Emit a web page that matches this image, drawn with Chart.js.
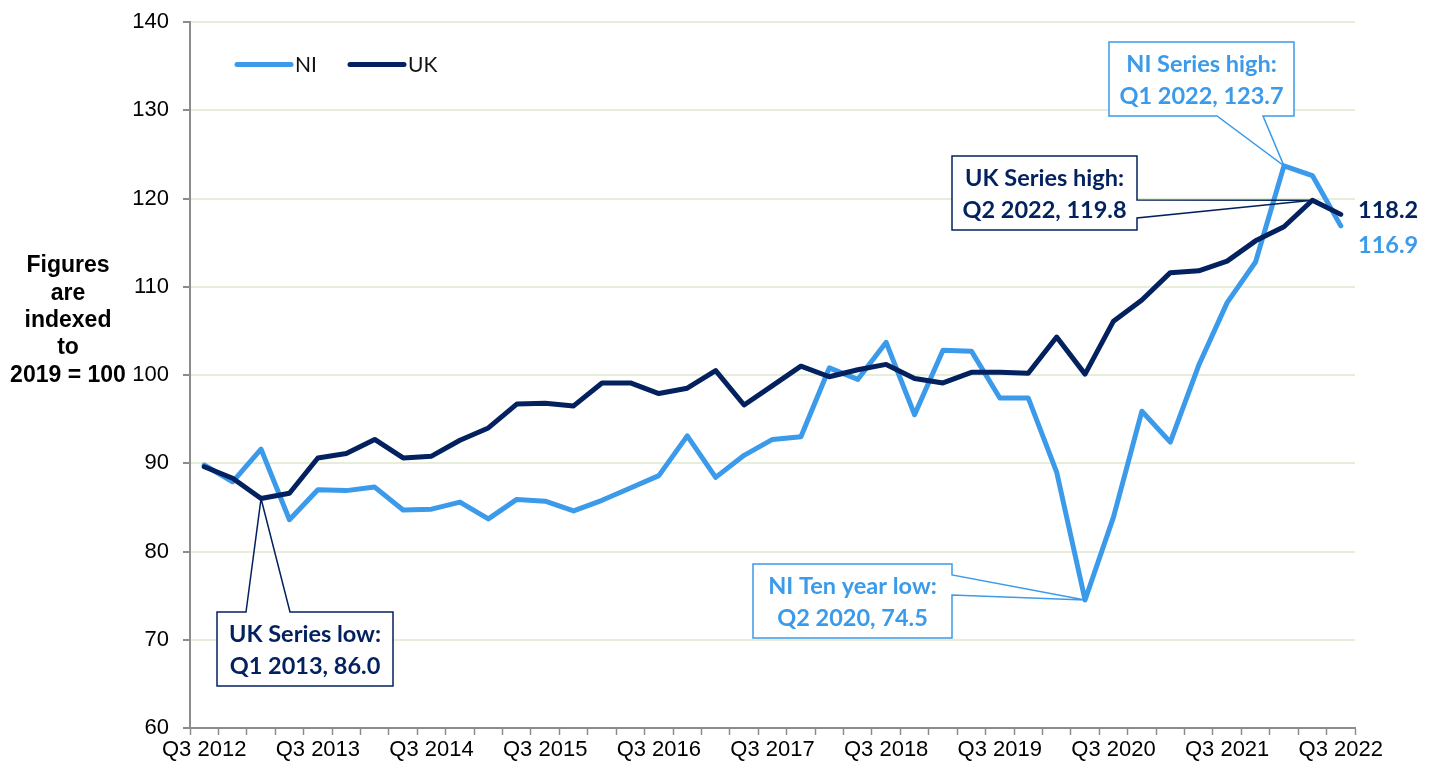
<!DOCTYPE html>
<html>
<head>
<meta charset="utf-8">
<script src="https://cdn.jsdelivr.net/npm/chart.js@4"></script>
<style>
  body { margin: 0; background: #fff; }
  canvas { display: block; }
</style>
</head>
<body>
<canvas id="chart" width="1431" height="768"></canvas>
<script>
// quarters, Q3 2012 .. Q3 2022
const quarters = [
  'Q3 2012','Q4 2012','Q1 2013','Q2 2013','Q3 2013','Q4 2013','Q1 2014','Q2 2014',
  'Q3 2014','Q4 2014','Q1 2015','Q2 2015','Q3 2015','Q4 2015','Q1 2016','Q2 2016',
  'Q3 2016','Q4 2016','Q1 2017','Q2 2017','Q3 2017','Q4 2017','Q1 2018','Q2 2018',
  'Q3 2018','Q4 2018','Q1 2019','Q2 2019','Q3 2019','Q4 2019','Q1 2020','Q2 2020',
  'Q3 2020','Q4 2020','Q1 2021','Q2 2021','Q3 2021','Q4 2021','Q1 2022','Q2 2022',
  'Q3 2022'
];

const niValues = [
  89.8, 87.9, 91.6, 83.6, 87.0, 86.9, 87.3, 84.7, 84.8, 85.6, 83.7, 85.9, 85.7, 84.6,
  85.8, 87.2, 88.6, 93.1, 88.4, 90.9, 92.7, 93.0, 100.8, 99.5, 103.7, 95.5, 102.8, 102.7,
  97.4, 97.4, 89.0, 74.5, 83.9, 95.9, 92.4, 101.1, 108.2, 112.8, 123.7, 122.6, 116.9
];

const ukValues = [
  89.6, 88.3, 86.0, 86.6, 90.6, 91.1, 92.7, 90.6, 90.8, 92.6, 94.0, 96.7, 96.8, 96.5,
  99.1, 99.1, 97.9, 98.5, 100.5, 96.6, 98.8, 101.0, 99.8, 100.6, 101.2, 99.6, 99.1, 100.3,
  100.3, 100.2, 104.3, 100.1, 106.1, 108.5, 111.6, 111.8, 112.9, 115.2, 116.8, 119.8, 118.2
];

const yTitleLines = ['Figures', 'are', 'indexed', 'to', '2019 = 100'];

const NI_COL = '#3b9ae9';
const UK_COL = '#03215f';

// callouts: series, point index, text
const callouts = [
  { series: 'NI', idx: 38, lines: ['NI Series high:', 'Q1 2022, 123.7'] },
  { series: 'UK', idx: 39, lines: ['UK Series high:', 'Q2 2022, 119.8'] },
  { series: 'NI', idx: 31, lines: ['NI Ten year low:', 'Q2 2020, 74.5'] },
  { series: 'UK', idx: 2,  lines: ['UK Series low:', 'Q1 2013, 86.0'] }
];

// box geometry for each callout (x, y, w, h, which side the pointer leaves from, a, b)
const boxes = [
  { x: 1109, y: 42,  w: 185, h: 74, side: 'bottom', a: 1217, b: 1263 },
  { x: 952,  y: 156, w: 185, h: 74, side: 'right',  a: 200,  b: 218 },
  { x: 753,  y: 564, w: 199, h: 74, side: 'right',  a: 575,  b: 595 },
  { x: 217,  y: 612, w: 176, h: 74, side: 'top',    a: 246,  b: 290 }
];

const extras = {
  id: 'extras',
  afterDatasetsDraw(chart) {
    const ctx = chart.ctx;
    const xs = chart.scales.x, ys = chart.scales.y;
    ctx.save();

    // y axis title
    ctx.fillStyle = '#000';
    ctx.font = 'bold 23px "Liberation Sans", Arial, sans-serif';
    ctx.textAlign = 'center';
    ctx.textBaseline = 'middle';
    yTitleLines.forEach((t, i) => ctx.fillText(t, 68, 266 + i * 27.3));

    // legend
    const leg = [['NI', NI_COL, 237], ['UK', UK_COL, 350]];
    ctx.font = '21px Lato, sans-serif';
    ctx.textAlign = 'left';
    ctx.lineWidth = 5;
    ctx.lineCap = 'round';
    leg.forEach(([name, col, x]) => {
      ctx.strokeStyle = col;
      ctx.beginPath();
      ctx.moveTo(x, 64.5);
      ctx.lineTo(x + 54, 64.5);
      ctx.stroke();
      ctx.fillStyle = '#111';
      ctx.fillText(name, x + 58, 65);
    });

    // callouts
    ctx.lineCap = 'butt';
    ctx.lineJoin = 'miter';
    callouts.forEach((c, k) => {
      const b = boxes[k];
      const col = c.series === 'NI' ? NI_COL : UK_COL;
      const vals = c.series === 'NI' ? niValues : ukValues;
      const tx = xs.getPixelForValue(c.idx);
      const ty = ys.getPixelForValue(vals[c.idx]);
      const L = b.x, T = b.y, R = b.x + b.w, B = b.y + b.h;
      ctx.fillStyle = '#fff';
      ctx.fillRect(L, T, b.w, b.h);
      ctx.beginPath();
      if (b.side === 'right') {
        ctx.moveTo(L, T); ctx.lineTo(R, T); ctx.lineTo(R, b.a);
        ctx.lineTo(tx, ty); ctx.lineTo(R, b.b); ctx.lineTo(R, B); ctx.lineTo(L, B);
      } else if (b.side === 'bottom') {
        ctx.moveTo(L, T); ctx.lineTo(R, T); ctx.lineTo(R, B); ctx.lineTo(b.b, B);
        ctx.lineTo(tx, ty); ctx.lineTo(b.a, B); ctx.lineTo(L, B);
      } else {
        ctx.moveTo(L, T); ctx.lineTo(b.a, T); ctx.lineTo(tx, ty); ctx.lineTo(b.b, T);
        ctx.lineTo(R, T); ctx.lineTo(R, B); ctx.lineTo(L, B);
      }
      ctx.closePath();
      ctx.strokeStyle = col;
      ctx.lineWidth = 1.5;
      ctx.stroke();
      ctx.fillStyle = col;
      ctx.font = 'bold 23.5px Lato, sans-serif';
      ctx.textAlign = 'center';
      ctx.textBaseline = 'middle';
      ctx.fillText(c.lines[0], L + b.w / 2, T + 22);
      ctx.fillText(c.lines[1], L + b.w / 2, T + 54);
    });

    // end-of-line values
    const last = quarters.length - 1;
    ctx.font = 'bold 23.5px Lato, sans-serif';
    ctx.textAlign = 'left';
    ctx.fillStyle = UK_COL;
    ctx.fillText(ukValues[last].toFixed(1), 1358, 210);
    ctx.fillStyle = NI_COL;
    ctx.fillText(niValues[last].toFixed(1), 1358, 245);

    ctx.restore();
  }
};

new Chart(document.getElementById('chart'), {
  type: 'line',
  data: {
    labels: quarters,
    datasets: [
      { label: 'NI', data: niValues, borderColor: NI_COL, borderWidth: 5, order: 1 },
      { label: 'UK', data: ukValues, borderColor: UK_COL, borderWidth: 5, order: 0 }
    ]
  },
  options: {
    responsive: false,
    animation: false,
    devicePixelRatio: 1,
    layout: { padding: { left: 0, right: 76, top: 22, bottom: 0 } },
    elements: {
      point: { radius: 0 },
      line: { tension: 0, borderJoinStyle: 'round', borderCapStyle: 'round', fill: false }
    },
    plugins: {
      legend: { display: false },
      tooltip: { enabled: false }
    },
    scales: {
      x: {
        offset: true,
        grid: { offset: true, drawOnChartArea: false, drawTicks: true, tickLength: 7, tickColor: '#8c8c8c', tickWidth: 1.5 },
        border: { color: '#8c8c8c', width: 2 },
        ticks: {
          autoSkip: false,
          maxRotation: 0,
          padding: 2,
          color: '#000',
          font: { family: '"Liberation Sans", Arial, sans-serif', size: 22 },
          callback: function(v, i) { return i % 4 === 0 ? quarters[i] : ''; }
        },
        afterFit(s) { s.height = 40; s.paddingLeft = 0; s.paddingRight = 0; }
      },
      y: {
        min: 60,
        max: 140,
        grid: { color: '#e6edd8', lineWidth: 2, tickColor: '#8c8c8c', tickLength: 7 },
        border: { color: '#8c8c8c', width: 2 },
        ticks: {
          stepSize: 10,
          padding: 14,
          color: '#000',
          font: { family: '"Liberation Sans", Arial, sans-serif', size: 22 }
        },
        afterFit(s) { s.width = 190; s.paddingTop = 0; s.paddingBottom = 0; }
      }
    }
  },
  plugins: [extras]
});
</script>
</body>
</html>
